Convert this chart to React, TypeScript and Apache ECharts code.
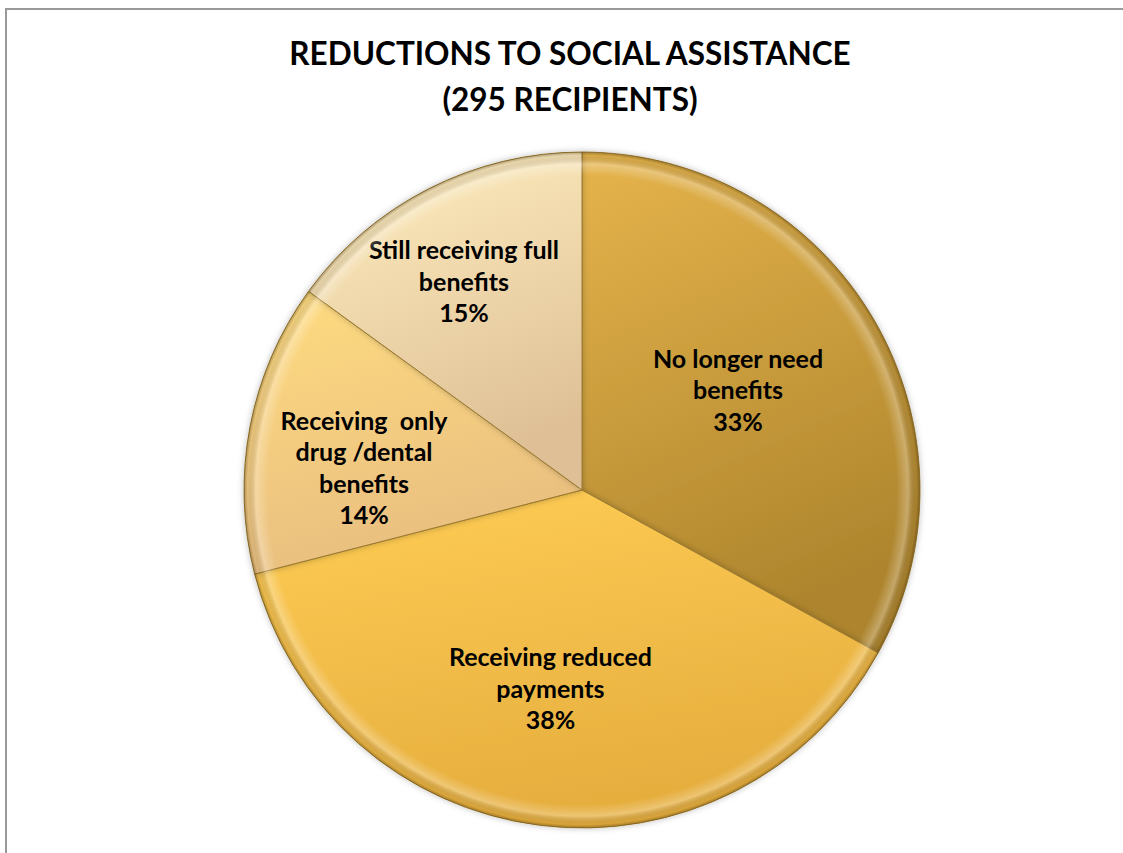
import React, { useEffect, useRef } from "react";
import * as echarts from "echarts";

const titleLines = ["REDUCTIONS TO SOCIAL ASSISTANCE", "(295 RECIPIENTS)"];
const categories = [
  "No longer need\nbenefits",
  "Receiving reduced\npayments",
  "Receiving  only\ndrug /dental\nbenefits",
  "Still receiving full\nbenefits",
];
const values = [33, 38, 14, 15];
// label nudges (px) from the default "inside" position
const labelOffsets = [
  [8, -13],
  [-10, 27],
  [-49, 9],
  [-40, -56],
];
const topColors = ["#E6B44C", "#FFCD55", "#FFDC80", "#FFEFC0"];
const bottomColors = ["#AE852D", "#E6AE3E", "#E9BE80", "#DFC096"];

const FONT = "Lato, 'Open Sans', sans-serif";

export default function App() {
  const ref = useRef<HTMLDivElement>(null);
  useEffect(() => {
    if (!ref.current) return;
    const chart = echarts.init(ref.current, undefined, { renderer: "svg" });
    const R = 338;
    const C = [582, 490];
    const data = values.map((v, i) => ({
      name: categories[i],
      value: v,
      itemStyle: {
        color: new echarts.graphic.LinearGradient(0, 0, 0.3, 1, [
          { offset: 0, color: topColors[i] },
          { offset: 1, color: bottomColors[i] },
        ]),
      },
      label: { offset: labelOffsets[i] },
    }));
    chart.setOption({
      animation: false,
      graphic: [
        {
          type: "rect",
          shape: { x: 6, y: 9, width: 1300, height: 1000 },
          style: { fill: "none", stroke: "#999999", lineWidth: 2 },
          silent: true,
        },
        {
          type: "text",
          x: 570,
          y: 53,
          style: {
            text: titleLines[0],
            font: `bold 31.5px ${FONT}`,
            fill: "#000",
            align: "center",
            verticalAlign: "middle",
          },
        },
        {
          type: "text",
          x: 570,
          y: 99,
          style: {
            text: titleLines[1],
            font: `bold 31.5px ${FONT}`,
            fill: "#000",
            align: "center",
            verticalAlign: "middle",
          },
        },
      ],
      series: [
        {
          type: "pie",
          center: C,
          radius: R,
          startAngle: 90,
          clockwise: true,
          data,
          itemStyle: {
            borderColor: "#9A7A30",
            borderWidth: 1,
            shadowBlur: 6,
            shadowColor: "rgba(0,0,0,0.25)",
          },
          label: {
            show: true,
            position: "inside",
            formatter: "{b}\n{c}%",
            fontFamily: FONT,
            fontWeight: "bold",
            fontSize: 25,
            lineHeight: 31.5,
            color: "#000",
            align: "center",
          },
          labelLine: { show: false },
          emphasis: { disabled: true },
          z: 2,
        },
        {
          type: "pie",
          center: C,
          radius: R,
          silent: true,
          data: [{ value: 1, name: "rim" }],
          label: { show: false },
          labelLine: { show: false },
          itemStyle: {
            color: new echarts.graphic.RadialGradient(
              C[0],
              C[1],
              R,
              [
                { offset: 0, color: "rgba(255,255,255,0)" },
                { offset: 0.93, color: "rgba(255,255,255,0)" },
                { offset: 0.965, color: "rgba(255,255,255,0.28)" },
                { offset: 0.99, color: "rgba(0,0,0,0.06)" },
                { offset: 1, color: "rgba(60,40,0,0.35)" },
              ],
              true
            ),
          },
          emphasis: { disabled: true },
          z: 3,
        },
      ],
    });
    return () => chart.dispose();
  }, []);
  return (
    <div
      ref={ref}
      style={{ position: "absolute", left: 0, top: 0, width: 1123, height: 853, background: "#fff" }}
    />
  );
}
